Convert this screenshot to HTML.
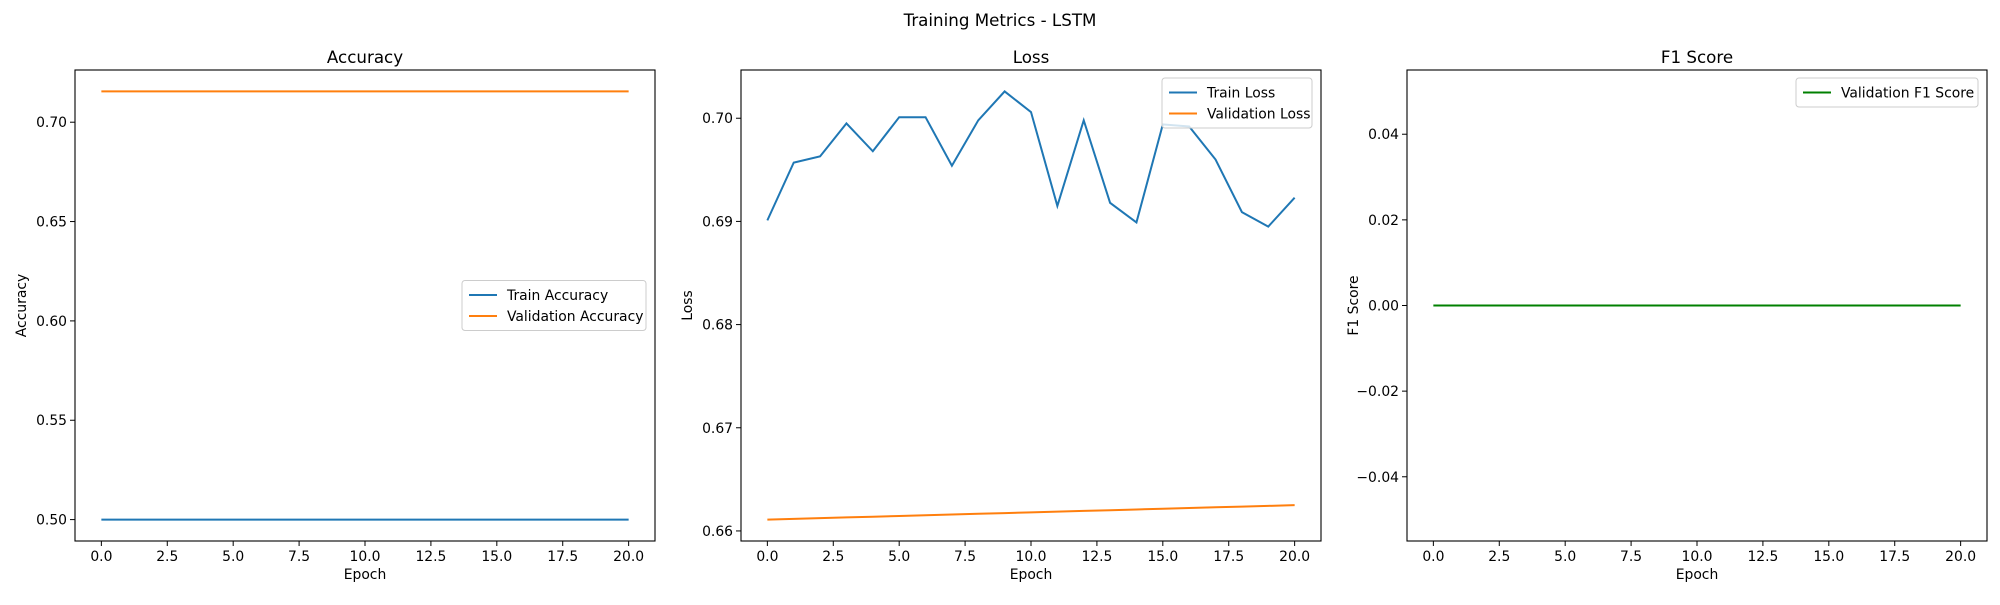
<!DOCTYPE html>
<html><head><meta charset="utf-8"><style>
html,body{margin:0;padding:0;background:#fff;}
svg text{font-family:"DejaVu Sans","Liberation Sans",sans-serif;fill:#000;}
</style></head>
<body>
<svg id="fig" width="2000" height="600" viewBox="0 0 2000 600" xmlns="http://www.w3.org/2000/svg">
<rect width="2000" height="600" fill="#fff"/>
<text x="1000" y="26" font-size="16.7" text-anchor="middle">Training Metrics - LSTM</text>
</svg>
<script>
const epochs = [0,1,2,3,4,5,6,7,8,9,10,11,12,13,14,15,16,17,18,19,20];
const trainAcc = [0.5,0.5,0.5,0.5,0.5,0.5,0.5,0.5,0.5,0.5,0.5,0.5,0.5,0.5,0.5,0.5,0.5,0.5,0.5,0.5,0.5];
const valAcc = [0.7155,0.7155,0.7155,0.7155,0.7155,0.7155,0.7155,0.7155,0.7155,0.7155,0.7155,0.7155,0.7155,0.7155,0.7155,0.7155,0.7155,0.7155,0.7155,0.7155,0.7155];
const trainLoss = [0.6901,0.6957,0.6963,0.6995,0.6968,0.7001,0.7001,0.6954,0.6998,0.7026,0.7006,0.6915,0.6998,0.6918,0.6899,0.6994,0.6992,0.6960,0.6909,0.6895,0.6923];
const valLoss = [0.6611,0.66117,0.66124,0.66131,0.66138,0.66145,0.66152,0.66159,0.66166,0.66173,0.6618,0.66187,0.66194,0.66201,0.66208,0.66215,0.66222,0.66229,0.66236,0.66243,0.6625];
const valF1 = [0,0,0,0,0,0,0,0,0,0,0,0,0,0,0,0,0,0,0,0,0];
const xTicks = [0,2.5,5,7.5,10,12.5,15,17.5,20];
const xTickLabels = ["0.0","2.5","5.0","7.5","10.0","12.5","15.0","17.5","20.0"];
const accTicks = [0.50,0.55,0.60,0.65,0.70];
const accTickLabels = ["0.50","0.55","0.60","0.65","0.70"];
const lossTicks = [0.66,0.67,0.68,0.69,0.70];
const lossTickLabels = ["0.66","0.67","0.68","0.69","0.70"];
const f1Ticks = [-0.04,-0.02,0,0.02,0.04];
const f1TickLabels = ["\u22120.04","\u22120.02","0.00","0.02","0.04"];

const NS = "http://www.w3.org/2000/svg";
const svg = document.getElementById('fig');
function mk(tag, attrs, parent){
  const e = document.createElementNS(NS, tag);
  for (const k in attrs) e.setAttribute(k, attrs[k]);
  (parent||svg).appendChild(e);
  return e;
}
function range(arrs){
  let mn=Infinity,mx=-Infinity;
  arrs.forEach(a=>a.forEach(v=>{mn=Math.min(mn,v);mx=Math.max(mx,v);}));
  if (mx-mn < 1e-12){ mn -= 0.05; mx += 0.05; }
  const m=(mx-mn)*0.05; return [mn-m,mx+m];
}
const TOP=70, BOT=541;
function panel(name, left, right, title, ylabel, series, yTicks, yTickLabels, legend){
  const g = mk('g', {});
  
  
  const xr=[Math.min(...epochs),Math.max(...epochs)], xm=(xr[1]-xr[0])*0.05;
  const x0=xr[0]-xm, x1=xr[1]+xm;
  const yr = range(series.map(s=>s.data));
  const X = v => left + (v-x0)/(x1-x0)*(right-left);
  const Y = v => BOT - (v-yr[0])/(yr[1]-yr[0])*(BOT-TOP);
  series.forEach(s=>{
    const p = mk('polyline', {points: epochs.map((e,i)=>X(e).toFixed(2)+','+Y(s.data[i]).toFixed(2)).join(' '), fill:'none', stroke:s.color, 'stroke-width':2}, g);
    
    
  });
  const fr = mk('rect', {x:left, y:TOP, width:right-left, height:BOT-TOP, fill:'none', stroke:'#000', 'stroke-width':1.1}, g);
  
  
  xTicks.forEach((t,i)=>{
    mk('line', {x1:X(t), x2:X(t), y1:BOT, y2:BOT+5, stroke:'#000', 'stroke-width':1}, g);
    const tx = mk('text', {x:X(t), y:BOT+20, 'font-size':13.9, 'text-anchor':'middle'}, g);
    tx.textContent = xTickLabels[i];
    
    
  });
  yTicks.forEach((t,i)=>{
    mk('line', {x1:left-5, x2:left, y1:Y(t), y2:Y(t), stroke:'#000', 'stroke-width':1}, g);
    const tx = mk('text', {x:left-8, y:Y(t)+5, 'font-size':13.9, 'text-anchor':'end'}, g);
    tx.textContent = yTickLabels[i];
    
    
  });
  const tt = mk('text', {x:(left+right)/2, y:TOP-7, 'font-size':16.7, 'text-anchor':'middle'}, g);
  tt.textContent = title;
  
  
  const xl = mk('text', {x:(left+right)/2, y:BOT+38, 'font-size':13.9, 'text-anchor':'middle'}, g);
  xl.textContent = 'Epoch';
  
  
  const yx = left - 49, yy = (TOP+BOT)/2;
  const yl = mk('text', {x:yx, y:yy, 'font-size':13.9, 'text-anchor':'middle', transform:`rotate(-90 ${yx} ${yy})`}, g);
  yl.textContent = ylabel;
  
  
  const lw = legend.w, lh = 8 + series.length*21;
  const lx = right - 9 - lw;
  const ly = legend.pos==='center' ? (TOP+BOT)/2 - lh/2 : TOP + 8;
  const lg = mk('g', {}, g);
  
  
  mk('rect', {x:lx, y:ly, width:lw, height:lh, rx:3, fill:'#fff', 'fill-opacity':0.8, stroke:'#ccc', 'stroke-width':1}, lg);
  series.forEach((s,i)=>{
    const cy = ly + 14.5 + i*21;
    const en = mk('g', {}, lg);
    
    
    mk('line', {x1:lx+7, x2:lx+35, y1:cy, y2:cy, stroke:s.color, 'stroke-width':2}, en);
    const t = mk('text', {x:lx+45, y:cy+5, 'font-size':13.9}, en);
    t.textContent = s.label;
  });
}
panel('accuracy-panel', 75, 655, 'Accuracy', 'Accuracy',
  [{key:'train-accuracy-line',label:'Train Accuracy',color:'#1f77b4',data:trainAcc},
   {key:'validation-accuracy-line',label:'Validation Accuracy',color:'#ff7f0e',data:valAcc}],
  accTicks, accTickLabels, {pos:'center', w:184});
panel('loss-panel', 741, 1321, 'Loss', 'Loss',
  [{key:'train-loss-line',label:'Train Loss',color:'#1f77b4',data:trainLoss},
   {key:'validation-loss-line',label:'Validation Loss',color:'#ff7f0e',data:valLoss}],
  lossTicks, lossTickLabels, {pos:'top', w:150});
panel('f1-panel', 1407, 1987, 'F1 Score', 'F1 Score',
  [{key:'validation-f1-line',label:'Validation F1 Score',color:'#008000',data:valF1}],
  f1Ticks, f1TickLabels, {pos:'top', w:182});
</script>
</body></html>
